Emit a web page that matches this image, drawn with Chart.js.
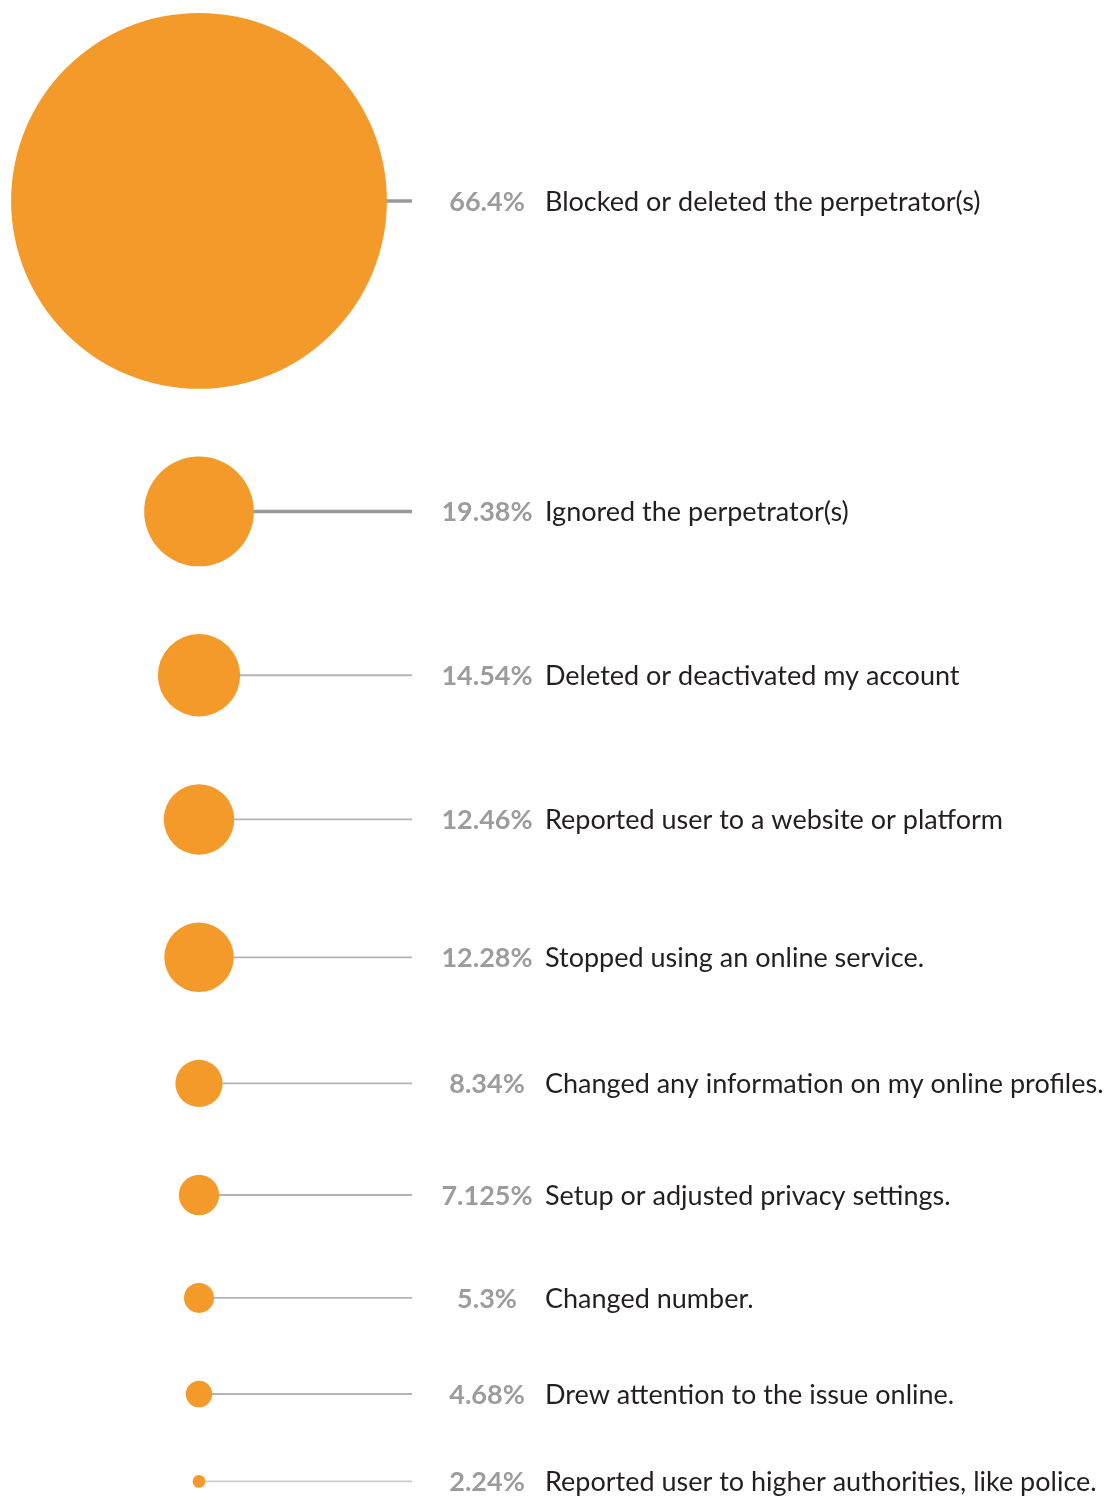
<!DOCTYPE html>
<html lang="en">
<head>
    <meta charset="UTF-8">
    <title>Responses</title>
    <script src="https://cdn.jsdelivr.net/npm/chart.js"></script>
    <style>
        html, body { margin: 0; padding: 0; background: #ffffff; }
        .chart-container { position: relative; width: 1113px; height: 1497px; }
    </style>
</head>
<body>
    <div class="chart-container">
        <canvas id="bubble-chart"></canvas>
    </div>
    <script>
        const percents = [66.4, 19.38, 14.54, 12.46, 12.28, 8.34, 7.125, 5.3, 4.68, 2.24];
        const percentLabels = ['66.4%', '19.38%', '14.54%', '12.46%', '12.28%', '8.34%', '7.125%', '5.3%', '4.68%', '2.24%'];
        const actions = [
            'Blocked or deleted the perpetrator(s)',
            'Ignored the perpetrator(s)',
            'Deleted or deactivated my account',
            'Reported user to a website or platform',
            'Stopped using an online service.',
            'Changed any information on my online profiles.',
            'Setup or adjusted privacy settings.',
            'Changed number.',
            'Drew attention to the issue online.',
            'Reported user to higher authorities, like police.'
        ];

        // bubble radius grows linearly with the percentage, circles stacked with a fixed gap
        const radiusPerPoint = 2.83;
        const gap = 67.8;
        const topMargin = 13;
        const radii = percents.map(p => p * radiusPerPoint);
        const centres = [];
        let cursor = topMargin;
        radii.forEach(r => {
            centres.push(cursor + r);
            cursor += 2 * r + gap;
        });

        const connectorPlugin = {
            id: 'connectors',
            beforeDatasetsDraw(chart) {
                const { ctx, scales: { x, y } } = chart;
                const lineEnd = x.getPixelForValue(213);
                ctx.save();
                percents.forEach((p, i) => {
                    const cy = y.getPixelForValue(centres[i]);
                    const cx = x.getPixelForValue(0);
                    ctx.beginPath();
                    ctx.moveTo(cx, cy);
                    ctx.lineTo(lineEnd, cy);
                    if (i < 2) { ctx.strokeStyle = '#9a9a9a'; ctx.lineWidth = 3.5; }
                    else if (i < 9) { ctx.strokeStyle = '#b4b4b4'; ctx.lineWidth = 1.8; }
                    else { ctx.strokeStyle = '#cccccc'; ctx.lineWidth = 1.8; }
                    ctx.stroke();
                });
                ctx.restore();
            },
            afterDatasetsDraw(chart) {
                const { ctx, scales: { x, y } } = chart;
                const pctCentre = x.getPixelForValue(288);
                const textLeft = x.getPixelForValue(346);
                ctx.save();
                ctx.textBaseline = 'middle';
                percents.forEach((p, i) => {
                    const cy = y.getPixelForValue(centres[i]) + 1;
                    ctx.font = 'bold 27px Lato, sans-serif';
                    ctx.fillStyle = '#9c9c9c';
                    ctx.textAlign = 'center';
                    ctx.fillText(percentLabels[i], pctCentre, cy);
                    ctx.font = '400 27px Lato, sans-serif';
                    ctx.fillStyle = '#231f20';
                    ctx.textAlign = 'left';
                    ctx.fillText(actions[i], textLeft, cy);
                });
                ctx.restore();
            }
        };

        const ctx = document.getElementById('bubble-chart').getContext('2d');
        new Chart(ctx, {
            type: 'bubble',
            data: {
                labels: actions,
                datasets: [{
                    label: 'Responses',
                    data: percents.map((p, i) => ({ x: 0, y: centres[i], r: radii[i] })),
                    backgroundColor: '#f39a2b',
                    borderWidth: 0,
                    hoverBorderWidth: 0,
                    clip: false
                }]
            },
            options: {
                responsive: true,
                maintainAspectRatio: false,
                animation: false,
                layout: { padding: 0, autoPadding: false },
                plugins: { legend: { display: false }, tooltip: { enabled: false } },
                scales: {
                    x: { type: 'linear', display: false, min: -199, max: 914 },
                    y: { type: 'linear', display: false, reverse: true, min: 0, max: 1497 }
                }
            },
            plugins: [connectorPlugin]
        });
    </script>
</body>
</html>
